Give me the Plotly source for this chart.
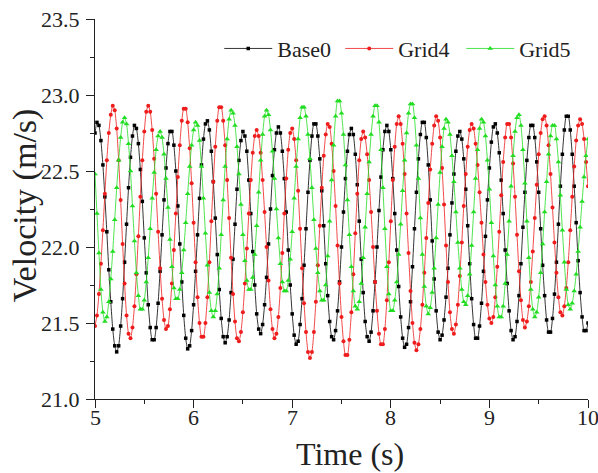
import plotly.graph_objects as go

# Velocity samples every 0.02 s from t = 5.00 s to t = 10.00 s
t_start = 5.0
t_step = 0.02

base0 = [
    22.75, 22.82, 22.80, 22.70, 22.54, 22.33, 22.10, 21.85, 21.64, 21.46,
    21.35, 21.31, 21.35, 21.48, 21.66, 21.90, 22.15, 22.39, 22.59, 22.73,
    22.80, 22.78, 22.68, 22.51, 22.30, 22.06, 21.83, 21.62, 21.47, 21.39,
    21.39, 21.47, 21.63, 21.84, 22.08, 22.31, 22.52, 22.68, 22.76, 22.76,
    22.67, 22.50, 22.27, 22.02, 21.77, 21.55, 21.40, 21.33, 21.35, 21.45,
    21.62, 21.84, 22.08, 22.32, 22.54, 22.71, 22.81, 22.83, 22.77, 22.63,
    22.43, 22.19, 21.95, 21.72, 21.53, 21.41, 21.37, 21.41, 21.52, 21.70,
    21.92, 22.15, 22.38, 22.57, 22.70, 22.76, 22.73, 22.63, 22.44, 22.22,
    21.97, 21.75, 21.56, 21.46, 21.43, 21.49, 21.62, 21.80, 22.02, 22.25,
    22.47, 22.64, 22.75, 22.79, 22.75, 22.63, 22.45, 22.23, 21.98, 21.75,
    21.56, 21.42, 21.36, 21.38, 21.49, 21.66, 21.88, 22.12, 22.36, 22.57,
    22.73, 22.81, 22.81, 22.73, 22.58, 22.37, 22.14, 21.89, 21.68, 21.51,
    21.41, 21.39, 21.45, 21.58, 21.77, 22.00, 22.23, 22.45, 22.63, 22.74,
    22.78, 22.74, 22.61, 22.41, 22.17, 21.92, 21.70, 21.51, 21.41, 21.38,
    21.44, 21.58, 21.77, 22.00, 22.24, 22.46, 22.64, 22.76, 22.80, 22.76,
    22.64, 22.45, 22.22, 21.98, 21.74, 21.54, 21.40, 21.34, 21.36, 21.47,
    21.64, 21.87, 22.12, 22.36, 22.58, 22.74, 22.82, 22.82, 22.72, 22.54,
    22.31, 22.04, 21.79, 21.58, 21.44, 21.39, 21.42, 21.52, 21.67, 21.86,
    22.08, 22.29, 22.48, 22.63, 22.73, 22.76, 22.71, 22.58, 22.38, 22.14,
    21.89, 21.66, 21.49, 21.40, 21.40, 21.48, 21.63, 21.84, 22.07, 22.31,
    22.52, 22.69, 22.79, 22.81, 22.75, 22.62, 22.44, 22.22, 21.98, 21.76,
    21.58, 21.45, 21.39, 21.41, 21.51, 21.68, 21.89, 22.13, 22.36, 22.57,
    22.72, 22.80, 22.80, 22.72, 22.56, 22.36, 22.12, 21.88, 21.68, 21.52,
    21.44, 21.44, 21.53, 21.69, 21.90, 22.15, 22.40, 22.61, 22.77, 22.86,
    22.86, 22.77, 22.61, 22.40, 22.16, 21.91, 21.70, 21.54, 21.45, 21.45,
    21.50,
]

grid4 = [
    21.48, 21.55, 21.69, 21.89, 22.11, 22.35, 22.57, 22.75, 22.87, 22.93,
    22.90, 22.78, 22.57, 22.31, 22.02, 21.76, 21.55, 21.43, 21.40, 21.47,
    21.61, 21.82, 22.07, 22.33, 22.57, 22.76, 22.89, 22.93, 22.89, 22.77,
    22.58, 22.35, 22.10, 21.86, 21.66, 21.52, 21.46, 21.48, 21.59, 21.76,
    21.98, 22.22, 22.46, 22.67, 22.83, 22.91, 22.91, 22.82, 22.65, 22.42,
    22.16, 21.90, 21.67, 21.50, 21.41, 21.41, 21.50, 21.67, 21.90, 22.17,
    22.43, 22.66, 22.83, 22.92, 22.92, 22.83, 22.67, 22.44, 22.19, 21.93,
    21.69, 21.51, 21.40, 21.38, 21.44, 21.57, 21.76, 21.99, 22.22, 22.44,
    22.62, 22.73, 22.77, 22.73, 22.62, 22.44, 22.23, 22.00, 21.78, 21.59,
    21.46, 21.40, 21.43, 21.54, 21.73, 21.96, 22.22, 22.45, 22.64, 22.75,
    22.78, 22.71, 22.57, 22.37, 22.12, 21.86, 21.63, 21.44, 21.31, 21.27,
    21.31, 21.44, 21.64, 21.88, 22.14, 22.39, 22.60, 22.74, 22.81, 22.79,
    22.68, 22.50, 22.27, 22.01, 21.76, 21.54, 21.38, 21.29, 21.29, 21.39,
    21.57, 21.82, 22.09, 22.35, 22.57, 22.71, 22.76, 22.72, 22.61, 22.44,
    22.23, 22.00, 21.77, 21.58, 21.43, 21.36, 21.36, 21.46, 21.65, 21.90,
    22.17, 22.44, 22.66, 22.81, 22.86, 22.81, 22.68, 22.48, 22.22, 21.96,
    21.71, 21.50, 21.37, 21.32, 21.36, 21.46, 21.62, 21.83, 22.06, 22.29,
    22.51, 22.68, 22.80, 22.86, 22.83, 22.72, 22.52, 22.28, 22.01, 21.77,
    21.57, 21.46, 21.43, 21.49, 21.62, 21.81, 22.03, 22.27, 22.48, 22.66,
    22.77, 22.81, 22.78, 22.68, 22.54, 22.36, 22.16, 21.95, 21.77, 21.62,
    21.53, 21.50, 21.54, 21.67, 21.87, 22.10, 22.34, 22.56, 22.72, 22.81,
    22.81, 22.72, 22.55, 22.33, 22.08, 21.84, 21.65, 21.52, 21.47, 21.51,
    21.61, 21.77, 21.97, 22.19, 22.41, 22.61, 22.75, 22.84, 22.86, 22.80,
    22.67, 22.48, 22.26, 22.03, 21.83, 21.67, 21.57, 21.55, 21.61, 21.73,
    21.90, 22.11, 22.33, 22.53, 22.70, 22.80, 22.84, 22.81, 22.71, 22.56,
    22.40,
]

grid5 = [
    22.48, 22.22, 21.96, 21.72, 21.57, 21.51, 21.54, 21.64, 21.79, 21.97,
    22.18, 22.39, 22.57, 22.72, 22.82, 22.85, 22.81, 22.68, 22.50, 22.27,
    22.04, 21.83, 21.68, 21.59, 21.59, 21.65, 21.77, 21.93, 22.12, 22.32,
    22.49, 22.64, 22.73, 22.76, 22.72, 22.61, 22.45, 22.26, 22.05, 21.87,
    21.73, 21.66, 21.66, 21.72, 21.83, 21.98, 22.16, 22.35, 22.53, 22.67,
    22.77, 22.82, 22.80, 22.70, 22.53, 22.32, 22.09, 21.88, 21.70, 21.58,
    21.54, 21.58, 21.69, 21.86, 22.08, 22.31, 22.53, 22.71, 22.84, 22.90,
    22.88, 22.80, 22.66, 22.48, 22.28, 22.08, 21.91, 21.78, 21.72, 21.72,
    21.80, 21.95, 22.14, 22.36, 22.57, 22.74, 22.86, 22.90, 22.87, 22.77,
    22.63, 22.45, 22.25, 22.06, 21.89, 21.77, 21.71, 21.71, 21.78, 21.92,
    22.10, 22.32, 22.53, 22.71, 22.85, 22.92, 22.92, 22.86, 22.74, 22.58,
    22.39, 22.18, 21.99, 21.83, 21.71, 21.65, 21.65, 21.75, 21.94, 22.17,
    22.44, 22.67, 22.86, 22.96, 22.96, 22.88, 22.74, 22.54, 22.31, 22.08,
    21.87, 21.71, 21.61, 21.59, 21.64, 21.76, 21.93, 22.13, 22.35, 22.56,
    22.74, 22.86, 22.93, 22.93, 22.82, 22.64, 22.39, 22.12, 21.87, 21.69,
    21.58, 21.58, 21.65, 21.77, 21.95, 22.15, 22.37, 22.57, 22.75, 22.88,
    22.94, 22.94, 22.85, 22.67, 22.45, 22.19, 21.95, 21.74, 21.61, 21.56,
    21.60, 21.70, 21.86, 22.06, 22.28, 22.49, 22.66, 22.78, 22.84, 22.82,
    22.74, 22.60, 22.43, 22.23, 22.03, 21.86, 21.72, 21.64, 21.62, 21.68,
    21.82, 22.01, 22.23, 22.45, 22.64, 22.78, 22.84, 22.82, 22.73, 22.57,
    22.38, 22.16, 21.94, 21.75, 21.61, 21.54, 21.54, 21.61, 21.76, 21.95,
    22.17, 22.40, 22.60, 22.76, 22.85, 22.87, 22.80, 22.64, 22.42, 22.17,
    21.93, 21.72, 21.59, 21.54, 21.57, 21.67, 21.83, 22.02, 22.23, 22.43,
    22.61, 22.73, 22.80, 22.80, 22.71, 22.56, 22.34, 22.11, 21.90, 21.72,
    21.62, 21.59, 21.63, 21.71, 21.82, 21.97, 22.13, 22.30, 22.46, 22.60,
    22.71,
]

series_names = ["Base0", "Grid4", "Grid5"]
x_ticks = [5, 6, 7, 8, 9, 10]
y_ticks = [21.0, 21.5, 22.0, 22.5, 23.0, 23.5]


def times_for(values):
    return [round(t_start + t_step * i, 2) for i in range(len(values))]


FONT = "Liberation Serif"
INK = "#222222"
styles = [
    dict(color="#000000", symbol="square", size=3.5),
    dict(color="#ee1c1c", symbol="circle", size=4),
    dict(color="#22dd22", symbol="triangle-up", size=5),
]

fig = go.Figure()
for name, values, st in zip(series_names, [base0, grid4, grid5], styles):
    fig.add_trace(go.Scatter(
        x=times_for(values), y=values, name=name,
        mode="lines+markers",
        line=dict(color=st["color"], width=0.8, shape="spline", smoothing=0.6),
        marker=dict(color=st["color"], symbol=st["symbol"], size=st["size"],
                    line=dict(width=0)),
    ))

axis_common = dict(
    showline=True, linecolor=INK, linewidth=1.3, mirror=False,
    ticks="outside", ticklen=8, tickwidth=1.3, tickcolor=INK,
    showgrid=False, zeroline=False, automargin=False,
    tickfont=dict(family=FONT, size=22, color=INK),
)

# x tick labels are placed as annotations (below), snug under the tick marks
fig.update_xaxes(
    range=[5, 10], tickvals=x_ticks, showticklabels=False,
    minor=dict(ticks="outside", ticklen=4, tickwidth=1.3, tickcolor=INK, dtick=0.5),
    **axis_common,
)
fig.update_yaxes(
    range=[21.0, 23.5], tickvals=y_ticks, ticktext=[f"{v:.1f}" for v in y_ticks],
    ticklabelstandoff=2,
    minor=dict(ticks="outside", ticklen=4, tickwidth=1.3, tickcolor=INK, dtick=0.25),
    **axis_common,
)

for xv in x_ticks:
    fig.add_annotation(text=str(xv), xref="x", yref="paper", x=xv, y=-0.049,
                       xanchor="center", yanchor="middle", showarrow=False,
                       font=dict(family=FONT, size=22, color=INK))

# Axis titles
fig.add_annotation(text="Time (s)", xref="paper", yref="paper", x=0.517, y=-0.145,
                   xanchor="center", yanchor="middle", showarrow=False,
                   font=dict(family=FONT, size=32, color=INK))
fig.add_annotation(text="Velocity (m/s)", xref="paper", yref="paper", x=-0.142, y=0.51,
                   xanchor="center", yanchor="middle", showarrow=False, textangle=-90,
                   font=dict(family=FONT, size=34, color=INK))

fig.update_layout(
    width=598, height=473,
    margin=dict(l=95, r=10, t=19, b=74, autoexpand=False),
    paper_bgcolor="white", plot_bgcolor="white",
    showlegend=True,
    legend=dict(
        orientation="h", x=0.252, y=0.922, xanchor="left", yanchor="middle",
        font=dict(family=FONT, size=22, color=INK),
        bgcolor="rgba(0,0,0,0)", itemwidth=48,
        entrywidth=58, entrywidthmode="pixels",
    ),
)

fig.write_html("out.html")
